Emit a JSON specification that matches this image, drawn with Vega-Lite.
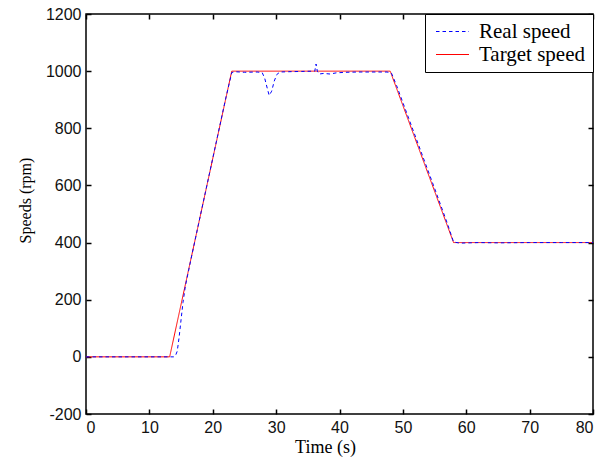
{
  "$schema": "https://vega.github.io/schema/vega-lite/v6.json",
  "width": 507,
  "height": 400,
  "autosize": "none",
  "padding": {"left": 86, "top": 14, "right": 17, "bottom": 50},
  "background": "white",
  "config": {
    "view": {"stroke": "black", "strokeWidth": 1.5},
    "axis": {
      "grid": false,
      "domain": false,
      "tickColor": "black",
      "tickSize": -5,
      "tickWidth": 1.5,
      "labelFont": "Liberation Sans",
      "labelFontSize": 16,
      "labelColor": "#111",
      "labelExpr": "'' + datum.value",
      "titleFont": "Liberation Serif",
      "titleFontWeight": "normal",
      "titleColor": "black"
    }
  },
  "data": {
    "values": [
      {"t": 0, "speed": 0, "series": "Target speed"},
      {"t": 13.2, "speed": 0, "series": "Target speed"},
      {"t": 23, "speed": 1000, "series": "Target speed"},
      {"t": 48, "speed": 1000, "series": "Target speed"},
      {"t": 58, "speed": 400, "series": "Target speed"},
      {"t": 80, "speed": 400, "series": "Target speed"},
      {"t": 0, "speed": 0, "series": "Real speed"},
      {"t": 13.8, "speed": 0, "series": "Real speed"},
      {"t": 14.1, "speed": 3, "series": "Real speed"},
      {"t": 14.4, "speed": 20, "series": "Real speed"},
      {"t": 14.7, "speed": 70, "series": "Real speed"},
      {"t": 15.0, "speed": 130, "series": "Real speed"},
      {"t": 15.3, "speed": 190, "series": "Real speed"},
      {"t": 15.7, "speed": 250, "series": "Real speed"},
      {"t": 16.5, "speed": 335, "series": "Real speed"},
      {"t": 18, "speed": 490, "series": "Real speed"},
      {"t": 20, "speed": 695, "series": "Real speed"},
      {"t": 22, "speed": 900, "series": "Real speed"},
      {"t": 23, "speed": 995, "series": "Real speed"},
      {"t": 23.5, "speed": 998, "series": "Real speed"},
      {"t": 25, "speed": 996, "series": "Real speed"},
      {"t": 27, "speed": 997, "series": "Real speed"},
      {"t": 27.8, "speed": 995, "series": "Real speed"},
      {"t": 28.2, "speed": 975, "series": "Real speed"},
      {"t": 28.6, "speed": 940, "series": "Real speed"},
      {"t": 28.9, "speed": 915, "series": "Real speed"},
      {"t": 29.3, "speed": 930, "series": "Real speed"},
      {"t": 29.7, "speed": 965, "series": "Real speed"},
      {"t": 30.1, "speed": 988, "series": "Real speed"},
      {"t": 30.6, "speed": 997, "series": "Real speed"},
      {"t": 32, "speed": 998, "series": "Real speed"},
      {"t": 34, "speed": 999, "series": "Real speed"},
      {"t": 36.1, "speed": 1000, "series": "Real speed"},
      {"t": 36.3, "speed": 1025, "series": "Real speed"},
      {"t": 36.5, "speed": 1000, "series": "Real speed"},
      {"t": 36.8, "speed": 990, "series": "Real speed"},
      {"t": 37.5, "speed": 992, "series": "Real speed"},
      {"t": 38.5, "speed": 990, "series": "Real speed"},
      {"t": 39.5, "speed": 994, "series": "Real speed"},
      {"t": 41, "speed": 996, "series": "Real speed"},
      {"t": 43, "speed": 997, "series": "Real speed"},
      {"t": 45, "speed": 997, "series": "Real speed"},
      {"t": 47.5, "speed": 997, "series": "Real speed"},
      {"t": 48.2, "speed": 993, "series": "Real speed"},
      {"t": 49, "speed": 950, "series": "Real speed"},
      {"t": 51, "speed": 830, "series": "Real speed"},
      {"t": 53, "speed": 710, "series": "Real speed"},
      {"t": 55, "speed": 590, "series": "Real speed"},
      {"t": 57, "speed": 468, "series": "Real speed"},
      {"t": 58, "speed": 402, "series": "Real speed"},
      {"t": 59, "speed": 398, "series": "Real speed"},
      {"t": 62, "speed": 400, "series": "Real speed"},
      {"t": 65, "speed": 399, "series": "Real speed"},
      {"t": 70, "speed": 400, "series": "Real speed"},
      {"t": 75, "speed": 400, "series": "Real speed"},
      {"t": 80, "speed": 400, "series": "Real speed"}
    ]
  },
  "layer": [
    {
      "mark": {"type": "line", "strokeWidth": 1, "clip": true},
      "encoding": {
        "x": {
          "field": "t", "type": "quantitative",
          "scale": {"domain": [0, 80], "nice": false, "zero": false},
          "axis": {"values": [0, 10, 20, 30, 40, 50, 60, 70, 80], "title": "Time (s)", "titleFontSize": 18, "titleX": 239, "titleY": 38, "titleBaseline": "alphabetic", "titleAnchor": "middle", "labelPadding": 10}
        },
        "y": {
          "field": "speed", "type": "quantitative",
          "scale": {"domain": [-200, 1200], "nice": false, "zero": false},
          "axis": {"values": [-200, 0, 200, 400, 600, 800, 1000, 1200], "title": "Speeds (rpm)", "titleFontSize": 16, "titleX": -53, "titleY": 186, "titleBaseline": "bottom", "titleAngle": -90, "titleAnchor": "middle", "labelPadding": 10}
        },
        "color": {
          "field": "series", "type": "nominal",
          "scale": {"domain": ["Real speed", "Target speed"], "range": ["#0000ff", "#ff0000"]},
          "legend": {
            "title": null,
            "orient": "top-right",
            "offset": 0,
            "padding": 7,
            "fillColor": "white",
            "strokeColor": "black",
            "symbolType": "M-3.3,0H3.3",
            "symbolSize": 100,
            "symbolOffset": 10,
            "symbolStrokeWidth": 1,
            "labelFont": "Liberation Serif",
            "labelFontSize": 21,
            "labelColor": "black",
            "labelOffset": 16,
            "rowPadding": 1,
            "encode": {"symbols": {"update": {"stroke": {"scale": "color", "field": "value"}, "fill": {"value": "transparent"}}}}
          }
        },
        "strokeDash": {
          "field": "series", "type": "nominal",
          "scale": {"domain": ["Real speed", "Target speed"], "range": [[3.5, 3], [1, 0]]},
          "legend": null
        }
      }
    },
    {
      "mark": {"type": "line", "opacity": 0},
      "encoding": {
        "x": {"field": "t", "type": "quantitative", "axis": {"orient": "top", "labels": false, "title": null, "values": [0, 10, 20, 30, 40, 50, 60, 70, 80]}},
        "y": {"field": "speed", "type": "quantitative", "axis": {"orient": "right", "labels": false, "title": null, "values": [-200, 0, 200, 400, 600, 800, 1000, 1200]}}
      }
    }
  ],
  "resolve": {"axis": {"x": "independent", "y": "independent"}}
}
